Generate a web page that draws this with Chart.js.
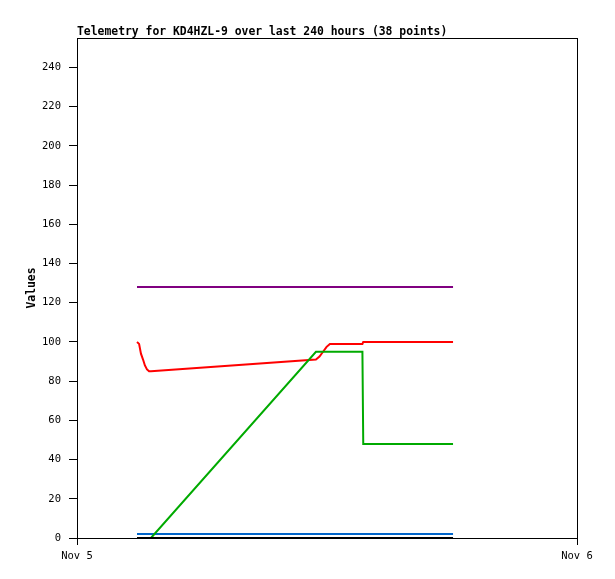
<!DOCTYPE html>
<html>
<head>
<meta charset="utf-8">
<script src="https://cdn.jsdelivr.net/npm/chart.js@4/dist/chart.umd.min.js"></script>
<style>
  body { margin: 0; background: #fff; }
</style>
</head>
<body>
<canvas id="chart" width="615" height="579"></canvas>
<script>
// hours since Nov 5 00:00
const hours = [2.88, 2.98, 3.07, 3.17, 3.26, 3.36, 3.46, 3.55,
    11.47, 11.64, 11.81, 11.98, 12.14,
    13.70, 13.74, 13.93, 14.12, 14.31, 14.50, 14.69, 14.88, 15.07, 15.26, 15.45,
    15.64, 15.83, 16.02, 16.21, 16.40, 16.59, 16.78, 16.97, 17.16, 17.35, 17.54,
    17.73, 17.90, 18.05]

const purpleVals = [128, 128, 128, 128, 128, 128, 128, 128,
    128, 128, 128, 128, 128,
    128, 128, 128, 128, 128, 128, 128, 128, 128, 128, 128,
    128, 128, 128, 128, 128, 128, 128, 128, 128, 128, 128,
    128, 128, 128]
const redVals = [100, 99, 94, 91, 88, 86, 85, 85,
    91, 92.5, 95, 97.5, 99,
    99, 100, 100, 100, 100, 100, 100, 100, 100, 100, 100,
    100, 100, 100, 100, 100, 100, 100, 100, 100, 100, 100,
    100, 100, 100]
const greenVals = [0, 0, 0, 0, 0, 0, 0, 0,
    95, 95, 95, 95, 95,
    95, 48, 48, 48, 48, 48, 48, 48, 48, 48, 48,
    48, 48, 48, 48, 48, 48, 48, 48, 48, 48, 48,
    48, 48, 48]
const blueVals = [2, 2, 2, 2, 2, 2, 2, 2,
    2, 2, 2, 2, 2,
    2, 2, 2, 2, 2, 2, 2, 2, 2, 2, 2,
    2, 2, 2, 2, 2, 2, 2, 2, 2, 2, 2,
    2, 2, 2]
const blackVals = [0, 0, 0, 0, 0, 0, 0, 0,
    0, 0, 0, 0, 0,
    0, 0, 0, 0, 0, 0, 0, 0, 0, 0, 0,
    0, 0, 0, 0, 0, 0, 0, 0, 0, 0, 0,
    0, 0, 0]

const xTickValues = [0, 24]
const xTickLabels = ["Nov 5", "Nov 6"]
const yTickValues = [0, 20, 40, 60, 80, 100, 120, 140, 160, 180, 200, 220, 240]

const mono = "'DejaVu Sans Mono', monospace"

function series(vals) {
    return vals.map((v, i) => ({ x: hours[i], y: v }))
}

function line(vals, color, order) {
    return {
        data: series(vals),
        borderColor: color,
        borderWidth: 2,
        pointRadius: 0,
        tension: 0,
        fill: false,
        order: order
    }
}

// plot frame (top and right edges too)
const boxPlugin = {
    id: 'box',
    beforeDatasetsDraw(chart) {
        const a = chart.chartArea
        const c = chart.ctx
        c.save()
        c.strokeStyle = '#000'
        c.lineWidth = 1
        c.strokeRect(Math.round(a.left) + 0.5, Math.round(a.top) + 0.5,
            Math.round(a.right - a.left), Math.round(a.bottom - a.top))
        c.restore()
    }
}

const ctx = document.getElementById("chart").getContext("2d")

new Chart(ctx, {
    type: 'line',
    data: {
        datasets: [
            line(purpleVals, '#800080', 5),
            line(blueVals, '#0066cc', 4),
            line(redVals, '#ff0000', 3),
            line(greenVals, '#00aa00', 2),
            line(blackVals, '#000000', 1)
        ]
    },
    plugins: [boxPlugin],
    options: {
        responsive: false,
        animation: false,
        layout: { padding: { left: 0, right: 38, top: 0, bottom: 0 } },
        plugins: {
            legend: { display: false },
            tooltip: { enabled: false },
            title: {
                display: true,
                fullSize: false,
                align: 'start',
                text: 'Telemetry for KD4HZL-9 over last 240 hours (38 points)',
                color: '#000',
                font: { family: mono, size: 11.4, weight: 'bold', lineHeight: 1 },
                padding: { top: 26.3, bottom: 0.3 }
            }
        },
        scales: {
            x: {
                type: 'linear',
                min: 0,
                max: 24,
                afterBuildTicks: scale => { scale.ticks = xTickValues.map(v => ({ value: v })) },
                afterFit: scale => { scale.height = 41 },
                grid: { drawOnChartArea: false, tickLength: 7, color: '#000' },
                border: { color: '#000', width: 1 },
                ticks: {
                    autoSkip: false,
                    maxRotation: 0,
                    padding: 5,
                    color: '#000',
                    font: { family: mono, size: 10.5 },
                    callback: v => xTickLabels[xTickValues.indexOf(v)]
                }
            },
            y: {
                min: 0,
                max: 255,
                afterBuildTicks: scale => { scale.ticks = yTickValues.map(v => ({ value: v })) },
                afterFit: scale => { scale.width = 77 },
                grid: { drawOnChartArea: false, tickLength: 8, color: '#000' },
                border: { color: '#000', width: 1 },
                ticks: {
                    padding: 8,
                    color: '#000',
                    font: { family: mono, size: 10.5 }
                },
                title: {
                    display: true,
                    text: 'Values',
                    color: '#000',
                    font: { family: mono, size: 11.4, weight: 'bold', lineHeight: 1.2 },
                    padding: { top: 25, bottom: 0 }
                }
            }
        }
    }
})
</script>
</body>
</html>
